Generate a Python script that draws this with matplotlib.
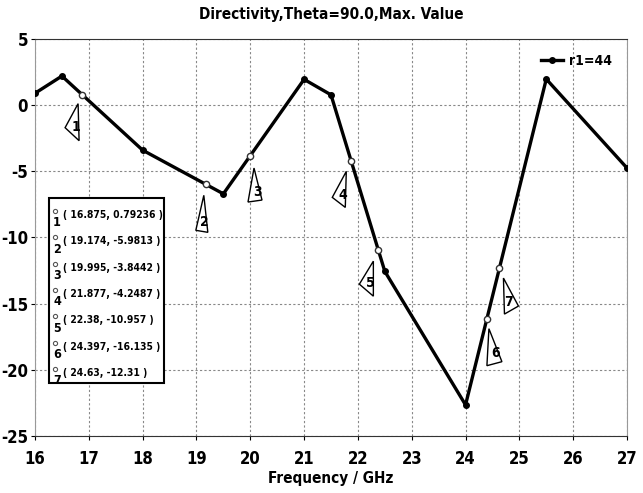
import matplotlib
matplotlib.use("Agg")
import matplotlib.pyplot as plt
import matplotlib.transforms as mtransforms
from matplotlib.patches import Polygon, Rectangle
from matplotlib import font_manager
from matplotlib.font_manager import FontProperties

# ---- data ----
freq = [16, 16.5, 18, 19.5, 21, 21.5, 22.5, 24, 25.5, 27]
directivity = [0.9, 2.2, -3.4, -6.7, 1.95, 0.78, -12.56, -22.65, 1.97, -4.75]
series_name = "r1=44"

marker_ids = [1, 2, 3, 4, 5, 6, 7]
marker_x = [16.875, 19.174, 19.995, 21.877, 22.38, 24.397, 24.63]
marker_y = [0.79236, -5.9813, -3.8442, -4.2487, -10.957, -16.135, -12.31]
marker_xlab = ["16.875", "19.174", "19.995", "21.877", "22.38", "24.397", "24.63"]
marker_ylab = ["0.79236", "-5.9813", "-3.8442", "-4.2487", "-10.957", "-16.135", "-12.31"]

xticks = list(range(16, 28))
yticks = [5, 0, -5, -10, -15, -20, -25]

# triangle callout shapes (pixel offsets from marker, y downward)
tri_shapes = [
    [(-4, 9), (-17, 33), (-3, 46)],
    [(-2, 11), (-10, 46), (2, 48)],
    [(4, 12), (-2, 46), (12, 44)],
    [(-5, 10), (-19, 36), (-6, 46)],
    [(-5, 11), (-19, 34), (-5, 46)],
    [(2, 10), (0, 47), (15, 43)],
    [(4, 10), (19, 38), (5, 46)],
]

# ---- font: prefer a condensed bold sans face ----
def is_bold(w):
    return w in (600, 700, 800, 'bold', 'semibold', 'demibold', 'heavy')

cands = []
for f in font_manager.fontManager.ttflist:
    nm = (f.name + " " + f.fname).lower()
    if "serif" in nm or "mono" in nm or "italic" in nm or "oblique" in nm:
        continue
    if f.style != 'normal':
        continue
    if ("narrow" in nm or "condensed" in nm) and is_bold(f.weight):
        rank = 0 if "liberation" in nm else (1 if "dejavu" in nm else 2)
        cands.append((rank, f.fname))
cands.sort()
cond_file = cands[0][1] if cands else None

if cond_file:
    def FP(size):
        return FontProperties(fname=cond_file, size=size)
else:
    def FP(size):
        return FontProperties(family="Liberation Sans", weight="bold", size=size * 0.85)

W, H = 643, 493
fig = plt.figure(figsize=(W / 100, H / 100), dpi=100)
ax = fig.add_axes([35 / W, 1 - 436 / H, 592 / W, 397 / H])

ax.plot(freq, directivity, color='black', lw=2.4, marker='o', ms=4,
        mfc='black', mec='black', label=series_name, zorder=3)
ax.plot(marker_x, marker_y, ls='none', marker='o', ms=4.5, mfc='white',
        mec='#333333', mew=1, zorder=4)

ax.set_xlim(16, 27)
ax.set_ylim(-25, 5)
ax.set_xticks(xticks)
ax.set_yticks(yticks)
ax.set_xticklabels([str(t) for t in xticks], fontproperties=FP(12))
ax.set_yticklabels([str(t) for t in yticks], fontproperties=FP(12))
ax.tick_params(axis='x', length=3, width=0.8, pad=7, colors='black')
ax.tick_params(axis='y', length=3, width=0.8, pad=2, colors='black')
ax.grid(True, ls=(0, (2, 2)), color='#888888', lw=0.8)
for s in ['left', 'right']:
    ax.spines[s].set_color('#999999')
for s in ['top', 'bottom']:
    ax.spines[s].set_color('#333333')

fig.text(0.515, 1 - 15 / H, "Directivity,Theta=90.0,Max. Value", ha='center',
         va='center', fontproperties=FP(11))
fig.text(0.515, 1 - 478 / H, "Frequency / GHz", ha='center', va='center',
         fontproperties=FP(11))

leg = ax.legend(loc='upper right', frameon=False, handlelength=1.6,
                borderaxespad=0.7, handletextpad=0.4, prop=FP(10))

# triangle callouts
for mid, mx, my, shape in zip(marker_ids, marker_x, marker_y, tri_shapes):
    tr = mtransforms.Affine2D().scale(1, -1) + \
        mtransforms.ScaledTranslation(mx, my, ax.transData)
    poly = Polygon(shape, closed=True, fc='white', ec='black', lw=1,
                   transform=tr, zorder=5)
    ax.add_patch(poly)
    cx = (shape[0][0] + shape[1][0] + 2 * shape[2][0]) / 4
    cy = (shape[0][1] + shape[1][1] + 2 * shape[2][1]) / 4
    ax.annotate(str(mid), xy=(mx, my), xytext=(cx + 1, -cy + 1),
                textcoords='offset pixels', ha='center', va='center',
                fontproperties=FP(10), zorder=6)

# marker table
box = Rectangle((49 / W, 1 - 383 / H), (164 - 49) / W, (383 - 198) / H,
                transform=fig.transFigure, fc='white', ec='black', lw=1.5,
                zorder=10)
fig.patches.append(box)
for i, (mid, xl, yl) in enumerate(zip(marker_ids, marker_xlab, marker_ylab)):
    yc = 215 + 26.3 * i
    fig.lines.append(plt.Line2D([55 / W], [1 - (yc - 4) / H], marker='o', ms=3,
                                mfc='white', mec='#555555', mew=0.8,
                                transform=fig.transFigure, zorder=11))
    fig.text(57 / W, 1 - (yc + 8) / H, str(mid), ha='center', va='center',
             fontproperties=FP(9), zorder=11)
    fig.text(63 / W, 1 - yc / H, f"( {xl}, {yl} )", ha='left', va='center',
             fontproperties=FP(7.4), zorder=11)

fig.savefig("out.png", dpi=100)
